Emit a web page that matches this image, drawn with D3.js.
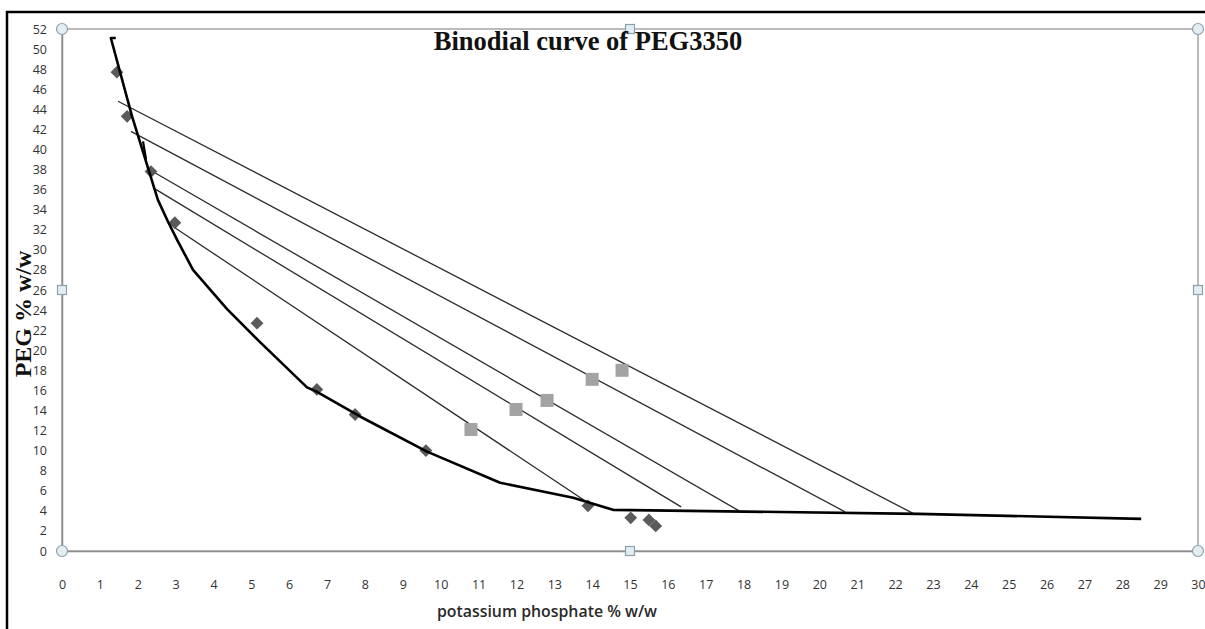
<!DOCTYPE html>
<html lang="en">
    <head>
        <meta charset="utf-8">
        <title>Binodial curve of PEG3350</title>
        <script src="https://d3js.org/d3.v7.min.js"></script>
        <style>
            body { margin: 0; background-color: #fff; }
            svg { display: block; }
        </style>
    </head>
    <body>
        <div id="grafico"></div>
        <script>
            // binodial curve (thick black line)
            var curvaX = [1.42, 1.29, 1.85, 2.53, 2.80, 3.04, 3.46, 4.36, 5.23, 6.47, 6.71, 7.87, 9.64, 11.57, 13.5, 14.55, 22.6, 28.5];
            var curvaY = [51.1, 51.1, 43.3, 35.0, 32.8, 31.0, 28.0, 24.1, 20.8, 16.3, 15.9, 13.4, 9.9, 6.8, 5.3, 4.1, 3.7, 3.2];
            // short stray segment near the top of the curve
            var trazoX = [2.14, 2.22];
            var trazoY = [40.8, 39.0];
            // experimental points (diamonds)
            var puntosX = [1.45, 1.72, 2.35, 2.98, 5.15, 6.73, 7.74, 9.61, 13.89, 15.02, 15.5, 15.68];
            var puntosY = [47.7, 43.3, 37.8, 32.7, 22.7, 16.1, 13.6, 10.0, 4.5, 3.3, 3.1, 2.5];
            // feed compositions (squares)
            var mezclaX = [10.8, 11.99, 12.81, 14.0, 14.79];
            var mezclaY = [12.1, 14.1, 15.0, 17.1, 18.0];
            // tie lines: top phase -> bottom phase
            var tieX1 = [1.48, 1.82, 2.35, 2.40, 2.98];
            var tieY1 = [44.8, 41.8, 37.9, 36.2, 32.2];
            var tieX2 = [22.5, 20.68, 17.88, 16.35, 13.89];
            var tieY2 = [3.7, 3.9, 4.0, 4.4, 4.8];
            var ticksX = d3.range(0, 31, 1);
            var ticksY = d3.range(0, 53, 2);

            var W = 1205, H = 629;
            var margin = {top: 29, right: 7, bottom: 78, left: 62},
                width = W - margin.left - margin.right,
                height = H - margin.top - margin.bottom;

            var root = d3.select("#grafico")
              .append("svg")
                .attr("width", W)
                .attr("height", H);

            // outer chart frame (only top/left visible)
            root.append("path")
                .attr("d", "M7,629 V12 H1205")
                .attr("fill", "none")
                .attr("stroke", "#000")
                .attr("stroke-width", 2.5);

            var svg = root.append("g")
                .attr("transform", "translate(" + margin.left + "," + margin.top + ")");

            var xScale = d3.scaleLinear().domain([0, 30]).range([0, width]);
            var yScale = d3.scaleLinear().domain([0, 52]).range([height, 0]);

            // plot area outline
            svg.append("rect")
                .attr("x", 0).attr("y", 0)
                .attr("width", width).attr("height", height)
                .attr("fill", "none")
                .attr("stroke", "#a5a5a5")
                .attr("stroke-width", 1.5);

            // axes: labels only, no tick marks
            var ejeX = svg.append("g")
                .attr("transform", "translate(0," + height + ")")
                .call(d3.axisBottom(xScale).tickValues(ticksX).tickSize(0).tickPadding(29).tickFormat(d3.format("d")));
            var ejeY = svg.append("g")
                .call(d3.axisLeft(yScale).tickValues(ticksY).tickSize(0).tickPadding(15).tickFormat(d3.format("d")));
            [ejeX, ejeY].forEach(function(eje) {
                eje.select(".domain").attr("stroke", "#8c8c8c").attr("stroke-width", 1.5);
                eje.selectAll("text")
                    .attr("font-family", "'Open Sans', 'Noto Sans', sans-serif")
                    .attr("font-size", 12.5)
                    .attr("fill", "#333");
            });

            var linea = d3.line()
                .x(function(d) { return xScale(d[0]); })
                .y(function(d) { return yScale(d[1]); });

            // tie lines
            svg.append("g")
                .selectAll("line")
                .data(d3.range(tieX1.length))
                .join("line")
                .attr("x1", function(i) { return xScale(tieX1[i]); })
                .attr("y1", function(i) { return yScale(tieY1[i]); })
                .attr("x2", function(i) { return xScale(tieX2[i]); })
                .attr("y2", function(i) { return yScale(tieY2[i]); })
                .attr("stroke", "#2b2b2b")
                .attr("stroke-width", 1.3);

            // squares
            svg.append("g")
                .selectAll("rect")
                .data(d3.range(mezclaX.length))
                .join("rect")
                .attr("x", function(i) { return xScale(mezclaX[i]) - 6.5; })
                .attr("y", function(i) { return yScale(mezclaY[i]) - 6.5; })
                .attr("width", 13)
                .attr("height", 13)
                .attr("fill", "#a3a3a3");

            // diamonds
            var rombo = d3.symbol().type(d3.symbolDiamond2).size(105);
            svg.append("g")
                .selectAll("path")
                .data(d3.range(puntosX.length))
                .join("path")
                .attr("d", rombo)
                .attr("transform", function(i) { return "translate(" + xScale(puntosX[i]) + "," + yScale(puntosY[i]) + ")"; })
                .attr("fill", "#5a5a5a");

            // binodial curve
            svg.append("path")
                .datum(curvaX.map(function(x, i) { return [x, curvaY[i]]; }))
                .attr("d", linea)
                .attr("fill", "none")
                .attr("stroke", "#000")
                .attr("stroke-width", 2.6)
                .attr("stroke-linejoin", "round");
            svg.append("path")
                .datum(trazoX.map(function(x, i) { return [x, trazoY[i]]; }))
                .attr("d", linea)
                .attr("fill", "none")
                .attr("stroke", "#000")
                .attr("stroke-width", 2.2);

            // titles
            root.append("text")
                .attr("x", 588)
                .attr("y", 50)
                .attr("text-anchor", "middle")
                .attr("font-family", "'Liberation Serif', 'Times New Roman', serif")
                .attr("font-weight", "bold")
                .attr("font-size", 26.5)
                .attr("fill", "#111")
                .text("Binodial curve of PEG3350");
            root.append("text")
                .attr("transform", "translate(31,314) rotate(-90)")
                .attr("text-anchor", "middle")
                .attr("font-family", "'Liberation Serif', 'Times New Roman', serif")
                .attr("font-weight", "bold")
                .attr("font-size", 24)
                .attr("fill", "#111")
                .text("PEG % w/w");
            root.append("text")
                .attr("x", 547)
                .attr("y", 617)
                .attr("text-anchor", "middle")
                .attr("font-family", "'Open Sans', 'Noto Sans', sans-serif")
                .attr("font-weight", 600)
                .attr("font-size", 16)
                .attr("textLength", 220)
                .attr("lengthAdjust", "spacingAndGlyphs")
                .attr("fill", "#2a2a2a")
                .text("potassium phosphate % w/w");

            // selection handles of the plot area
            var esquinas = [[0, 0], [width, 0], [0, height], [width, height]];
            var medios = [[width / 2, 0], [0, height / 2], [width, height / 2], [width / 2, height]];
            svg.append("g")
                .selectAll("circle")
                .data(esquinas)
                .join("circle")
                .attr("cx", function(d) { return d[0]; })
                .attr("cy", function(d) { return d[1]; })
                .attr("r", 5.5)
                .attr("fill", "#e4eef2")
                .attr("stroke", "#8aa2ae")
                .attr("stroke-width", 1.2);
            svg.append("g")
                .selectAll("rect")
                .data(medios)
                .join("rect")
                .attr("x", function(d) { return d[0] - 4.5; })
                .attr("y", function(d) { return d[1] - 4.5; })
                .attr("width", 9)
                .attr("height", 9)
                .attr("fill", "#e4eef2")
                .attr("stroke", "#8aa2ae")
                .attr("stroke-width", 1.2);
        </script>
    </body>
</html>
